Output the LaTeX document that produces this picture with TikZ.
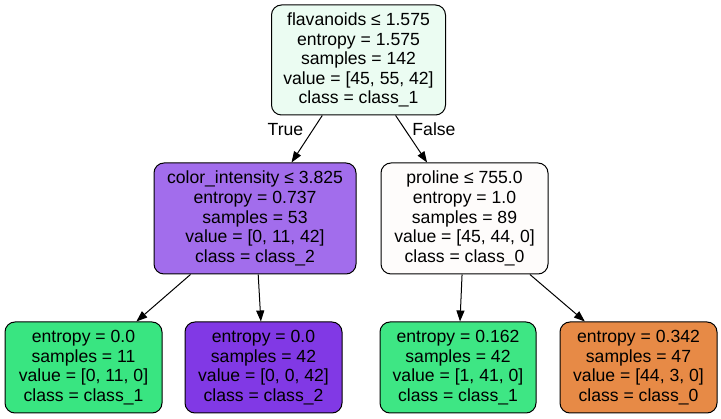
\documentclass[tikz,border=0pt]{standalone}
\usepackage{fontspec}
\setmainfont{Liberation Sans}
\usetikzlibrary{arrows.meta}
\definecolor{crootc}{RGB}{235,252,242}
\definecolor{cleftc}{RGB}{162,109,236}
\definecolor{crightc}{RGB}{254,252,251}
\definecolor{cgreen}{RGB}{57,229,129}
\definecolor{cpurple}{RGB}{129,57,229}
\definecolor{cgreenb}{RGB}{62,230,132}
\definecolor{corange}{RGB}{231,138,70}
\tikzset{
  treenode/.style={draw=black, line width=1pt, rounded corners=10pt, inner sep=0pt,
    align=center, font=\fontsize{17.6pt}{19.6pt}\selectfont, text=black},
  edgearrow/.style={line width=1pt, -{Triangle[length=11pt,width=8pt]}},
  edgelabel/.style={font=\fontsize{17.6pt}{19pt}\selectfont, inner sep=0pt}
}
\begin{document}
\begin{tikzpicture}[x=1pt,y=-1pt]
\useasboundingbox (0,0) rectangle (721,419);
\node[treenode, fill=crootc, minimum width=174pt, minimum height=110pt] (root) at (358.5,60)
  {flavanoids ≤ 1.575\\entropy = 1.575\\samples = 142\\value = [45, 55, 42]\\class = class\_1};
\node[treenode, fill=cleftc, minimum width=202pt, minimum height=111pt] (left) at (255,218.5)
  {color\_intensity ≤ 3.825\\entropy = 0.737\\samples = 53\\value = [0, 11, 42]\\class = class\_2};
\node[treenode, fill=crightc, minimum width=167pt, minimum height=111pt] (right) at (464.5,218.5)
  {proline ≤ 755.0\\entropy = 1.0\\samples = 89\\value = [45, 44, 0]\\class = class\_0};
\node[treenode, fill=cgreen, minimum width=157pt, minimum height=91pt] (l1) at (83.5,367.5)
  {entropy = 0.0\\samples = 11\\value = [0, 11, 0]\\class = class\_1};
\node[treenode, fill=cpurple, minimum width=157pt, minimum height=91pt] (l2) at (263.5,367.5)
  {entropy = 0.0\\samples = 42\\value = [0, 0, 42]\\class = class\_2};
\node[treenode, fill=cgreenb, minimum width=156pt, minimum height=91pt] (l3) at (458,367.5)
  {entropy = 0.162\\samples = 42\\value = [1, 41, 0]\\class = class\_1};
\node[treenode, fill=corange, minimum width=157pt, minimum height=91pt] (l4) at (638.5,367.5)
  {entropy = 0.342\\samples = 47\\value = [44, 3, 0]\\class = class\_0};
\draw[edgearrow] (root) -- (left);
\draw[edgearrow] (root) -- (right);
\draw[edgearrow] (left) -- (l1);
\draw[edgearrow] (left) -- (l2);
\draw[edgearrow] (right) -- (l3);
\draw[edgearrow] (right) -- (l4);
\node[edgelabel] (ltrue) at (285.5,129.5) {True};
\node[edgelabel] (lfalse) at (434,129.5) {False};
\end{tikzpicture}
\end{document}
